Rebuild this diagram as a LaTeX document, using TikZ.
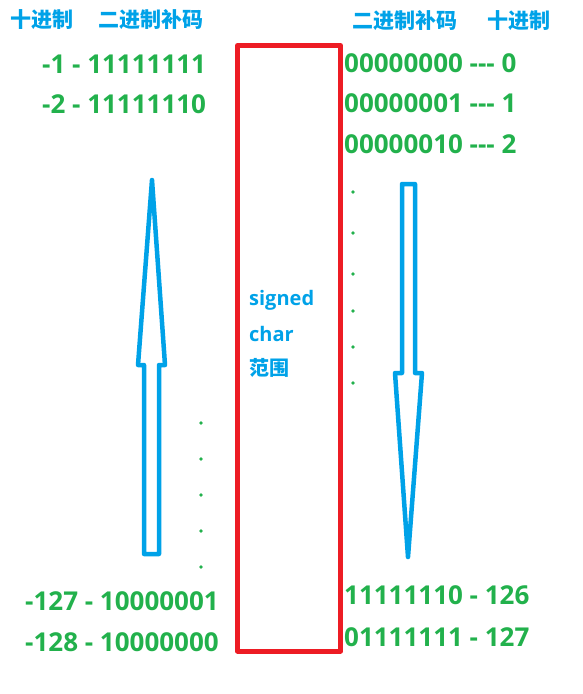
\documentclass[tikz,border=0pt]{standalone}
\usepackage{fontspec}
\setmainfont{Open Sans}
\newfontfamily\cjk{Noto Sans CJK SC}
\definecolor{numgreen}{RGB}{34,177,76}
\definecolor{headblue}{RGB}{0,162,232}
\definecolor{boxred}{RGB}{237,28,36}
\tikzset{
	num/.style={text=numgreen, font=\fontsize{26}{30}\selectfont\bfseries, inner sep=0pt, anchor=base west},
	head/.style={text=headblue, font=\cjk\bfseries\fontsize{21}{25}\selectfont, inner sep=0pt, anchor=west},
	note/.style={text=headblue, font=\fontsize{20}{24}\selectfont\bfseries, inner sep=0pt, anchor=base west},
	bigarrow/.style={draw=headblue, line width=4.5pt}
}
\begin{document}
\begin{tikzpicture}[x=1pt, y=-1pt, line join=round, line cap=round]
		\useasboundingbox (0,0) rectangle (582,694);
		% headings
		\node[head] (hdecL) at (10,20) {十进制};
		\node[head] (hbinL) at (98,20) {二进制补码};
		\node[head] (hbinR) at (352,21) {二进制补码};
		\node[head] (hdecR) at (487,21) {十进制};
		% negative side
		\node[num] (m1) at (42,73) {-1 - 11111111};
		\node[num] (m2) at (42,113) {-2 - 11111110};
		\node[num] (m127) at (25,610) {-127 - 10000001};
		\node[num] (m128) at (25,651) {-128 - 10000000};
		% positive side
		\node[num] (p0) at (344,72) {00000000 -{}-{}- 0};
		\node[num] (p1) at (344,112) {00000001 -{}-{}- 1};
		\node[num] (p2) at (344,153) {00000010 -{}-{}- 2};
		\node[num] (p126) at (344,604) {11111110 - 126};
		\node[num] (p127) at (344,646) {01111111 - 127};
		% range box
		\draw[boxred, line width=5pt] (237.5,45.5) rectangle (340.5,651);
		\node[note] (sig1) at (249,305) {signed};
		\node[note] (sig2) at (249,341) {char};
		\node[note, font=\cjk\bfseries\fontsize{20}{24}\selectfont] (sig3) at (249,375) {范围};
		% dots
		\foreach \y in {423,459,495,531,567}
		\fill[numgreen] (201,\y) circle (1.9);
		\foreach \y in {192,233,274,311,347,383}
		\fill[numgreen] (353,\y) circle (1.9);
		% arrows
		\draw[bigarrow] (144,554) -- (144,365) -- (138,365) -- (152,180) -- (165,365) -- (159,365) -- (159,554) -- cycle;
		\draw[bigarrow] (402,184) -- (402,373) -- (395,373) -- (408,557) -- (422,373) -- (415,373) -- (415,184) -- cycle;
\end{tikzpicture}
\end{document}
